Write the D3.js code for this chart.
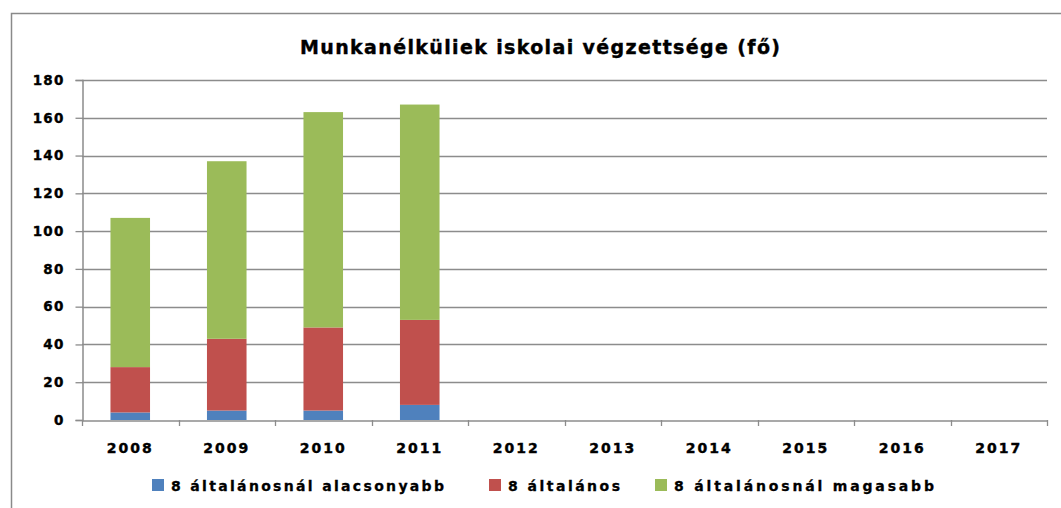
<!DOCTYPE html>
<html>
<head>
<meta charset="utf-8">
<script src="https://cdn.jsdelivr.net/npm/d3@7"></script>
<style>
  body { margin: 0; background: #fff; }
  svg { display: block; }
</style>
</head>
<body>
<div id="container"></div>
<script>
// data
const years = ['2008', '2009', '2010', '2011', '2012', '2013', '2014', '2015', '2016', '2017']
const seriesNames = ['8 általánosnál alacsonyabb', '8 általános', '8 általánosnál magasabb']
const lower = [4, 5, 5, 8, null, null, null, null, null, null]
const primary = [24, 38, 44, 45, null, null, null, null, null, null]
const higher = [79, 94, 114, 114, null, null, null, null, null, null]
const yTicks = [0, 20, 40, 60, 80, 100, 120, 140, 160, 180]
const colors = ['#4F81BD', '#C0504D', '#9BBB59']

const width = 1061
const height = 508
const marginLeft = 82
const marginRight = 14
const marginTop = 80
const plotBottom = 420

const svg = d3.select('#container').append('svg')
    .attr('width', width)
    .attr('height', height)

// chart frame
svg.append('rect')
    .attr('x', 11.5)
    .attr('y', 13.5)
    .attr('width', width + 20)
    .attr('height', height + 20)
    .attr('fill', 'none')
    .attr('stroke', '#8a8a8a')
    .attr('stroke-width', 1.5)

const x = d3.scaleBand()
    .domain(years)
    .range([marginLeft, width - marginRight])
    .paddingInner(0)
    .paddingOuter(0)

const y = d3.scaleLinear()
    .domain([0, 180])
    .range([plotBottom, marginTop])

// horizontal grid
svg.append('g')
    .selectAll('line')
    .data(yTicks.filter(d => d > 0))
    .enter()
    .append('line')
    .attr('x1', marginLeft)
    .attr('x2', width - marginRight)
    .attr('y1', d => Math.round(y(d)) + 0.5)
    .attr('y2', d => Math.round(y(d)) + 0.5)
    .attr('stroke', '#8c8c8c')
    .attr('stroke-width', 1.3)

// stacked bars
const table = years.map((yr, i) => ({ year: yr, s0: lower[i] || 0, s1: primary[i] || 0, s2: higher[i] || 0 }))
const stack = d3.stack().keys(['s0', 's1', 's2'])(table)
const barW = x.bandwidth() * 0.41

svg.append('g')
    .selectAll('g')
    .data(stack)
    .enter()
    .append('g')
    .attr('fill', (d, i) => colors[i])
    .selectAll('rect')
    .data(d => d.filter(p => p[1] > p[0]))
    .enter()
    .append('rect')
    .attr('x', d => x(d.data.year) + (x.bandwidth() - barW) / 2)
    .attr('y', d => y(d[1]))
    .attr('width', barW)
    .attr('height', d => y(d[0]) - y(d[1]))

// y axis
const leftAxis = svg.append('g')
    .attr('transform', `translate(${marginLeft + 0.5},0)`)
    .call(d3.axisLeft(y).tickValues(yTicks).tickSize(7).tickPadding(11).tickFormat(d3.format('d')))
leftAxis.select('.domain').attr('stroke', '#8c8c8c').attr('stroke-width', 1.5)
leftAxis.selectAll('.tick line').attr('stroke', '#8c8c8c').attr('stroke-width', 1.3)
leftAxis.selectAll('.tick text')
    .style('font-family', 'DejaVu Sans')
    .style('font-weight', 'bold')
    .style('font-size', '13.5px')
    .style('letter-spacing', '1.2px')
    .style('stroke', '#000')
    .style('stroke-width', '0.4px')
    .attr('fill', '#000')

// x axis
const bottomAxis = svg.append('g')
    .attr('transform', `translate(0,${plotBottom + 0.5})`)
    .call(d3.axisBottom(x).tickSize(0).tickPadding(23))
bottomAxis.select('.domain').attr('stroke', '#8c8c8c').attr('stroke-width', 1.5)
bottomAxis.selectAll('.tick text')
    .style('font-family', 'DejaVu Sans')
    .style('font-weight', 'bold')
    .style('font-size', '14px')
    .style('letter-spacing', '2px')
    .style('stroke', '#000')
    .style('stroke-width', '0.4px')
    .attr('fill', '#000')
// tick marks at category boundaries
svg.append('g')
    .selectAll('line')
    .data(years.concat(['end']))
    .enter()
    .append('line')
    .attr('x1', (d, i) => Math.round(i < years.length ? x(d) : x.range()[1]) + 0.5)
    .attr('x2', (d, i) => Math.round(i < years.length ? x(d) : x.range()[1]) + 0.5)
    .attr('y1', plotBottom)
    .attr('y2', plotBottom + 6)
    .attr('stroke', '#8c8c8c')
    .attr('stroke-width', 1.3)

// title
svg.append('text')
    .attr('x', 540)
    .attr('y', 54)
    .attr('text-anchor', 'middle')
    .attr('textLength', 480)
    .attr('lengthAdjust', 'spacing')
    .style('font-family', 'DejaVu Sans')
    .style('font-weight', 'bold')
    .style('font-size', '19px')
    .style('stroke', '#000')
    .style('stroke-width', '0.4px')
    .text('Munkanélküliek iskolai végzettsége (fő)')

// legend
const legendX = [152, 489, 655]
const legendW = [273, 112, 260]
const legend = svg.append('g')
    .selectAll('g')
    .data(seriesNames)
    .enter()
    .append('g')
    .attr('transform', (d, i) => `translate(${legendX[i]},479)`)
legend.append('rect')
    .attr('width', 12)
    .attr('height', 12)
    .attr('fill', (d, i) => colors[i])
legend.append('text')
    .attr('x', 19)
    .attr('y', 11.5)
    .attr('textLength', (d, i) => legendW[i])
    .attr('lengthAdjust', 'spacing')
    .style('font-family', 'DejaVu Sans')
    .style('font-weight', 'bold')
    .style('font-size', '14px')
    .style('stroke', '#000')
    .style('stroke-width', '0.3px')
    .text(d => d)
</script>
</body>
</html>
